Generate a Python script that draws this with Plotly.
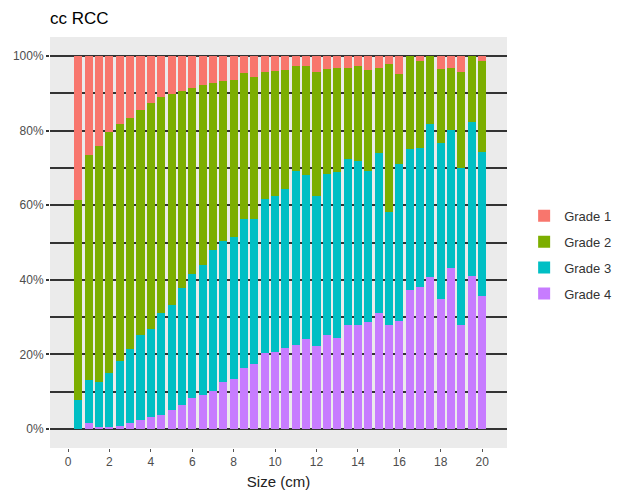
import plotly.graph_objects as go

# Tumour size (cm)
sizes = [0.5, 1.0, 1.5, 2.0, 2.5, 3.0, 3.5, 4.0, 4.5, 5.0,
         5.5, 6.0, 6.5, 7.0, 7.5, 8.0, 8.5, 9.0, 9.5, 10.0,
         10.5, 11.0, 11.5, 12.0, 12.5, 13.0, 13.5, 14.0, 14.5, 15.0,
         15.5, 16.0, 16.5, 17.0, 17.5, 18.0, 18.5, 19.0, 19.5, 20.0]

# Share of each grade (%) per size
grade4 = [0.0, 1.5, 0.6, 0.5, 0.8, 1.5, 2.4, 3.3, 3.8, 5.1,
          6.3, 8.3, 9.1, 10.3, 12.7, 13.3, 16.4, 17.3, 20.5, 20.7,
          21.6, 22.5, 24.0, 22.3, 25.2, 24.3, 27.9, 27.9, 28.8, 31.0,
          27.9, 29.0, 37.3, 38.0, 40.7, 34.9, 43.1, 27.9, 41.0, 35.7]
grade3 = [7.8, 11.6, 11.9, 14.6, 17.4, 19.9, 22.8, 23.4, 27.2, 28.1,
          31.4, 33.2, 34.9, 37.7, 37.8, 38.1, 39.8, 38.9, 41.2, 41.9,
          42.7, 46.7, 44.1, 40.3, 43.3, 44.5, 44.6, 43.9, 40.4, 42.9,
          30.2, 42.0, 37.9, 37.4, 41.1, 41.9, 37.1, 42.2, 41.4, 38.5]
grade2 = [53.6, 60.4, 63.4, 64.6, 63.6, 62.1, 60.3, 60.6, 57.9, 56.6,
          52.9, 49.8, 48.2, 44.7, 42.9, 42.2, 39.2, 38.1, 34.0, 33.3,
          31.9, 28.2, 29.3, 33.0, 28.0, 27.9, 24.4, 25.5, 27.0, 22.8,
          39.8, 24.1, 24.8, 23.3, 18.2, 19.6, 16.5, 25.5, 17.6, 24.5]
grade1 = [38.6, 26.5, 24.1, 20.3, 18.2, 16.5, 14.5, 12.7, 11.1, 10.2,
          9.4, 8.7, 7.8, 7.3, 6.6, 6.4, 4.6, 5.7, 4.3, 4.1,
          3.8, 2.6, 2.6, 4.4, 3.5, 3.3, 3.1, 2.7, 3.8, 3.3,
          2.1, 4.9, 0.0, 1.3, 0.0, 3.6, 3.3, 4.4, 0.0, 1.3]

series = [("Grade 4", grade4, "#C77CFF", 4),
          ("Grade 3", grade3, "#00BFC4", 3),
          ("Grade 2", grade2, "#7CAE00", 2),
          ("Grade 1", grade1, "#F8766D", 1)]

y_tickvals = [0, 20, 40, 60, 80, 100]
y_ticktext = ["0%", "20%", "40%", "60%", "80%", "100%"]
x_tickvals = [0, 2, 4, 6, 8, 10, 12, 14, 16, 18, 20]

FONT = "Liberation Sans, Arial, sans-serif"

fig = go.Figure()
for name, vals, col, rank in series:
    fig.add_trace(go.Bar(
        x=sizes, y=vals, name=name, legendgroup=name, legendrank=rank,
        marker=dict(color=col, line=dict(width=0)),
        width=0.39,
    ))

fig.update_layout(
    width=624, height=490,
    barmode="stack",
    paper_bgcolor="white",
    plot_bgcolor="#EBEBEB",
    margin=dict(l=42, r=125, t=29, b=50, autoexpand=False),
    font=dict(family=FONT, size=12, color="#4D4D4D"),
    title=dict(text="cc RCC", x=42/624, xref="container", xanchor="left",
               y=1 - 10/490, yref="container", yanchor="middle",
               font=dict(family=FONT, size=17, color="#000000")),
    legend=dict(x=1.0375, xanchor="left", y=0.47, yanchor="middle",
                traceorder="grouped", tracegroupgap=6,
                font=dict(family=FONT, size=13, color="#333333"),
                bgcolor="rgba(0,0,0,0)"),
    bargap=0.2,
)

fig.update_xaxes(
    range=[-0.87, 21.2], automargin=False,
    tickvals=x_tickvals,
    showgrid=False, zeroline=False, showline=False,
    ticks="outside", ticklen=3, tickcolor="#555555", tickwidth=1,
    tickfont=dict(family=FONT, size=12, color="#4D4D4D"),
    title=dict(text="Size (cm)", standoff=8,
               font=dict(family=FONT, size=15, color="#222222")),
)
fig.update_yaxes(
    range=[-5.1, 105.1], automargin=False,
    tickvals=y_tickvals, ticktext=y_ticktext,
    showgrid=True, gridcolor="#333333", gridwidth=1.5,
    minor=dict(dtick=10, tick0=0, showgrid=True, gridcolor="#333333", gridwidth=1.5),
    zeroline=False, showline=False,
    ticks="outside", ticklen=3, tickcolor="#333333", tickwidth=1.5,
    tickfont=dict(family=FONT, size=12, color="#4D4D4D"),
)

fig.write_html("out.html")
